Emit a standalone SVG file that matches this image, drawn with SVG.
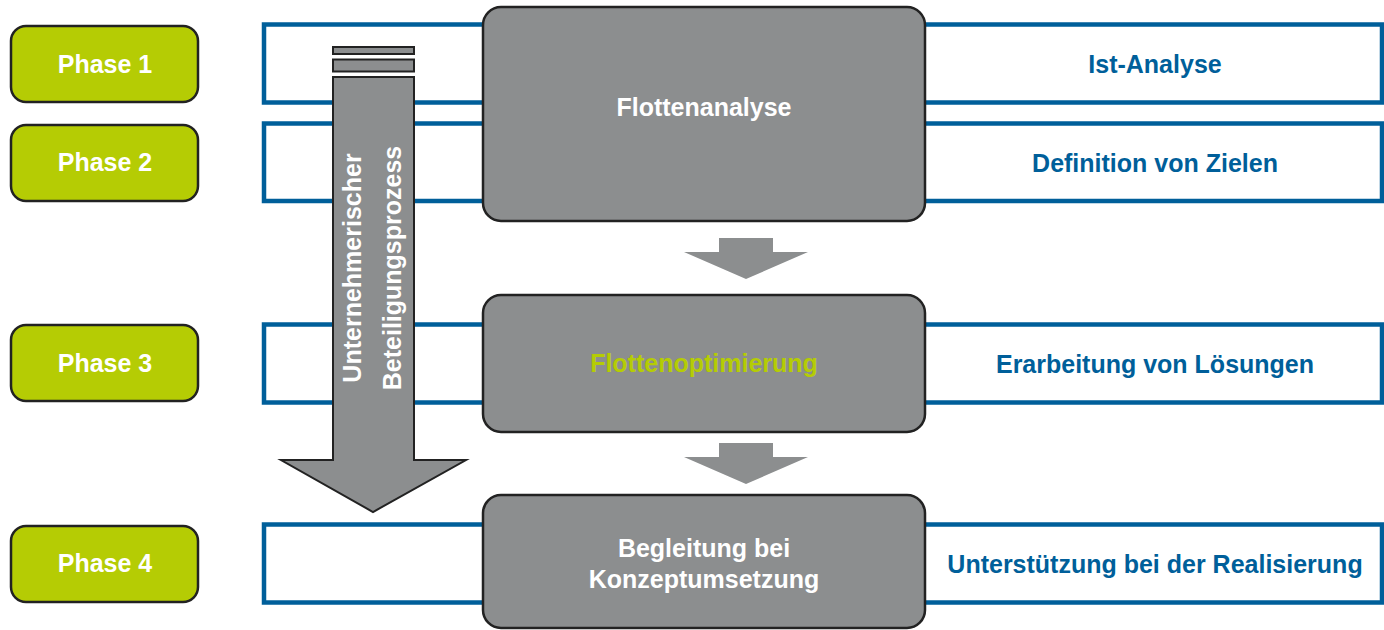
<svg xmlns="http://www.w3.org/2000/svg" width="1384" height="630" viewBox="0 0 1384 630">
<style>
.band{fill:#fff;stroke:#005f9a;stroke-width:4.5}
.phase{fill:#b5cc04;stroke:#222;stroke-width:2.5}
.gbox{fill:#8c8e8f;stroke:#222;stroke-width:2.5}
.arr{fill:#8c8e8f}
.big{fill:#8c8e8f;stroke:#222;stroke-width:2}
text{font-family:"Liberation Sans",Arial,sans-serif;font-weight:bold;font-size:25px;text-anchor:middle}
.w{fill:#fff}
.b{fill:#005f9a}
.g{fill:#b5cc04}
</style>
<rect width="1384" height="630" fill="#fff"/>
<g id="bands">
<rect class="band" x="264" y="24.5" width="1118" height="78"/>
<rect class="band" x="264" y="123.5" width="1118" height="77.5"/>
<rect class="band" x="264" y="324.5" width="1118" height="78"/>
<rect class="band" x="264" y="524.5" width="1118" height="78"/>
</g>
<g id="phase1"><rect class="phase" x="11" y="26" width="187" height="76" rx="15"/><text class="w" x="105" y="73">Phase 1</text></g>
<g id="phase2"><rect class="phase" x="11" y="125" width="187" height="76" rx="15"/><text class="w" x="105" y="171">Phase 2</text></g>
<g id="phase3"><rect class="phase" x="11" y="325" width="187" height="76" rx="15"/><text class="w" x="105" y="372">Phase 3</text></g>
<g id="phase4"><rect class="phase" x="11" y="526" width="187" height="76" rx="15"/><text class="w" x="105" y="572">Phase 4</text></g>
<g id="label1"><text class="b" x="1155" y="73">Ist-Analyse</text></g>
<g id="label2"><text class="b" x="1155" y="172">Definition von Zielen</text></g>
<g id="label3"><text class="b" x="1155" y="373">Erarbeitung von Lösungen</text></g>
<g id="label4"><text class="b" x="1155" y="573">Unterstützung bei der Realisierung</text></g>
<g id="process-arrow">
<rect class="big" x="333" y="47" width="81" height="7"/>
<rect class="big" x="333" y="59.5" width="81" height="12"/>
<path class="big" d="M333,77 H414 V460 H466 L373,512 L281,460 H333 Z"/>
<text class="w" transform="translate(361,268) rotate(-90)">Unternehmerischer</text>
<text class="w" transform="translate(401,268) rotate(-90)">Beteiligungsprozess</text>
</g>
<g id="connectors">
<path class="arr" d="M719,238 H773 V252 H808 L746,279 L684,252 H719 Z"/>
<path class="arr" d="M719,443 H773 V457 H808 L746,484 L684,457 H719 Z"/>
</g>
<g id="flottenanalyse"><rect class="gbox" x="483" y="7" width="442" height="214" rx="18"/><text class="w" x="704" y="116">Flottenanalyse</text></g>
<g id="flottenoptimierung"><rect class="gbox" x="483" y="295" width="442" height="137" rx="18"/><text class="g" x="704" y="372">Flottenoptimierung</text></g>
<g id="begleitung"><rect class="gbox" x="483" y="495" width="442" height="133" rx="18"/><text class="w" x="704" y="557">Begleitung bei</text><text class="w" x="704" y="588">Konzeptumsetzung</text></g>
</svg>
